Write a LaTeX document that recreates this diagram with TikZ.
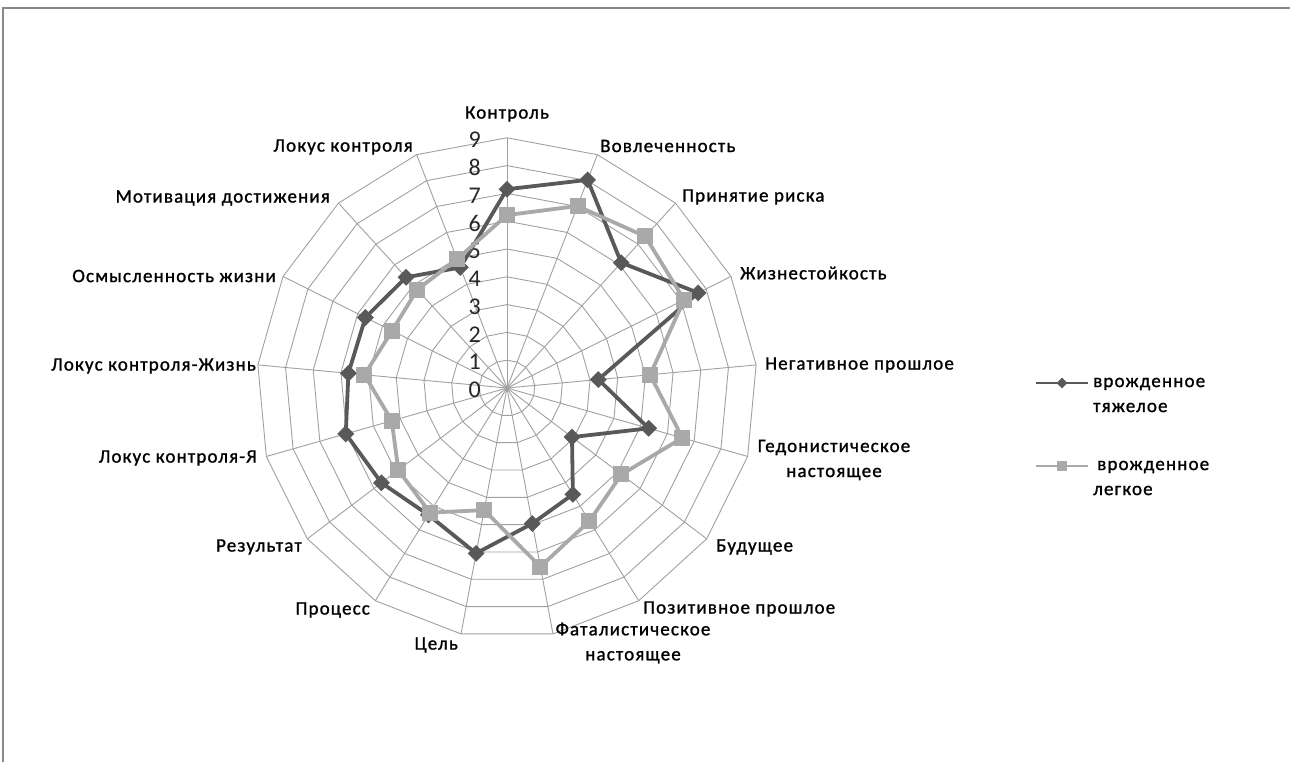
\documentclass[tikz,border=0pt]{standalone}
\usepackage{fontspec}
\setmainfont{Carlito}
\newfontfamily\lblfont[LetterSpace=6,FakeBold=1.2]{Carlito}
\usetikzlibrary{shapes.geometric}
\definecolor{gridc}{HTML}{A0A0A0}
\definecolor{darkc}{HTML}{595959}
\definecolor{lightc}{HTML}{A9A9A9}
\definecolor{framec}{HTML}{888888}
\begin{document}
\begin{tikzpicture}[x=1pt,y=-1pt,
  grid/.style={draw=gridc, line width=0.9pt},
  lbl/.style={font=\lblfont\fontsize{19}{25}\selectfont, inner sep=0pt, text=black},
  num/.style={font=\fontsize{24}{26}\selectfont, inner sep=0pt, anchor=east, text=black!85},
  dline/.style={draw=darkc, line width=3.8pt, line join=round},
  lline/.style={draw=lightc, line width=3.8pt, line join=round},
  dmark/.style={diamond, fill=darkc, inner sep=0pt, minimum width=17pt, minimum height=17pt},
  lmark/.style={rectangle, fill=lightc, inner sep=0pt, minimum size=16pt},
  dmarks/.style={diamond, fill=darkc, inner sep=0pt, minimum width=11pt, minimum height=11pt},
  lmarks/.style={rectangle, fill=lightc, inner sep=0pt, minimum size=10pt},
]
\useasboundingbox (0,0) rectangle (1290,762);
\draw[framec, line width=2pt] (3,762) -- (3,8) -- (1290,8);
\coordinate (O) at (507,388);
\begin{scope}[shift={(O)}]
  \foreach \r in {1,...,9}{
    \draw[grid] (-90:{\r*27.8}) \foreach \k in {1,...,16}{ -- ({\k*360/17-90}:{\r*27.8}) } -- cycle;
  }
  \foreach \k in {0,...,16} \draw[grid] (0,0) -- ({\k*360/17-90}:250.2);
  \foreach \n in {0,...,9} \node[num] (n\n) at (-26,{-\n*27.8+2}) {\n};
  % dark series
  \foreach \v [count=\i from 0] in {7.15,8.03,6.1,7.68,3.3,5.3,2.93,4.5,4.96,6.05,5.37,5.66,6.03,5.73,5.69,5.39,4.65}
    \coordinate (d\i) at ({\i*360/17-90}:{\v*27.8});
  \foreach \v [count=\i from 0] in {6.22,7.02,7.38,7.12,5.17,6.56,5.16,5.63,6.54,4.47,5.27,4.9,4.31,5.15,4.62,4.79,4.97}
    \coordinate (l\i) at ({\i*360/17-90}:{\v*27.8});
  \draw[dline] (d0) \foreach \i in {1,...,16}{ -- (d\i) } -- cycle;
  \foreach \i in {0,...,16} \node[dmark] (dm\i) at (d\i) {};
  \draw[lline] (l0) \foreach \i in {1,...,16}{ -- (l\i) } -- cycle;
  \foreach \i in {0,...,16} \node[lmark] (lm\i) at (l\i) {};
\end{scope}
% axis labels
\node[lbl] (a0) at (507,114) {Контроль};
\node[lbl, anchor=west] (a1) at (600,146) {Вовлеченность};
\node[lbl, anchor=west] (a2) at (682,197) {Принятие риска};
\node[lbl, anchor=west] (a3) at (740,273) {Жизнестойкость};
\node[lbl, anchor=west] (a4) at (765,365) {Негативное прошлое};
\node[lbl, align=center] (a5) at (834,460) {Гедонистическое\\настоящее};
\node[lbl, anchor=west] (a6) at (716,547) {Будущее};
\node[lbl, anchor=west] (a7) at (643,609) {Позитивное прошлое};
\node[lbl, align=center] (a8) at (633,643) {Фаталистическое\\настоящее};
\node[lbl, anchor=east] (a9) at (458,645) {Цель};
\node[lbl, anchor=east] (a10) at (370,610) {Процесс};
\node[lbl, anchor=east] (a11) at (302,547) {Результат};
\node[lbl, anchor=east] (a12) at (257,458) {Локус контроля-Я};
\node[lbl, anchor=east] (a13) at (256,366) {Локус контроля-Жизнь};
\node[lbl, anchor=east] (a14) at (276,276) {Осмысленность жизни};
\node[lbl, anchor=east] (a15) at (330,198) {Мотивация достижения};
\node[lbl, anchor=east] (a16) at (413,147) {Локус контроля};
% legend
\coordinate (g1a) at (1036,383);
\coordinate (g1b) at (1088,383);
\draw[darkc, line width=2pt] (g1a) -- (g1b);
\node[dmarks] (g1m) at (1062,383) {};
\node[lbl, anchor=west, align=left] (g1t) at (1093,395) {врожденное\\тяжелое};
\coordinate (g2a) at (1036,466);
\coordinate (g2b) at (1088,466);
\draw[lightc, line width=2pt] (g2a) -- (g2b);
\node[lmarks] (g2m) at (1062,466) {};
\node[lbl, anchor=west, align=left] (g2t) at (1093,478) {\hspace{4pt}врожденное\\легкое};
\end{tikzpicture}
\end{document}
